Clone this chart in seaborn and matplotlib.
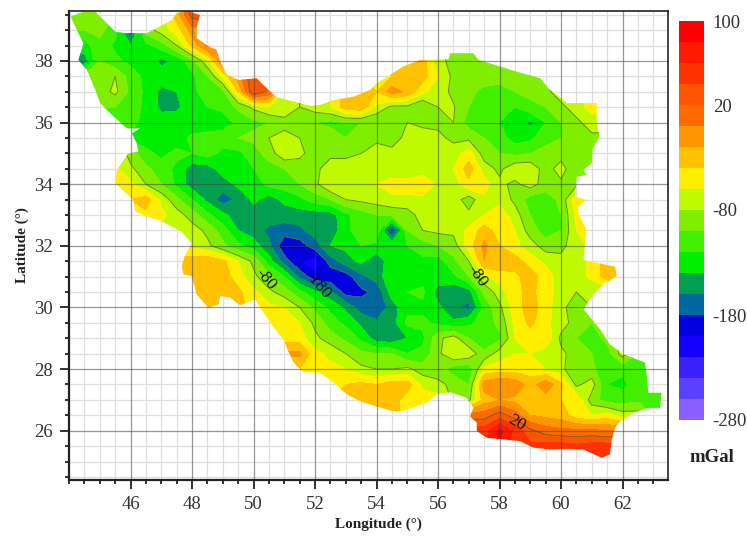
import numpy as np
import matplotlib
matplotlib.use("Agg")
import matplotlib.pyplot as plt
from matplotlib.colors import ListedColormap
from matplotlib.patches import Polygon
from matplotlib.ticker import MultipleLocator
import seaborn as sns

sns.set_theme(style="white")
plt.rcParams['font.family'] = ['Liberation Serif', 'DejaVu Serif']

# Country outline
outline_lon = [44.05,44.47,44.85,45.12,45.50,45.82,46.53,46.85,47.34,47.50,47.83,48.26,48.15,48.15,48.53,48.80,48.91,49.13,49.51,50.10,
 50.43,50.75,51.30,51.84,52.16,52.60,53.25,53.79,54.01,54.87,55.41,56.34,56.39,57.15,57.31,58.02,58.56,59.32,59.59,59.86,
 60.19,60.83,61.16,61.16,61.25,61.03,61.00,60.73,60.83,60.51,60.45,60.83,60.56,60.56,60.83,60.73,61.76,61.81,61.38,61.05,
 60.73,61.27,61.59,62.03,62.73,62.79,62.84,63.27,63.22,62.84,62.35,61.87,61.76,61.65,61.59,61.32,60.73,60.19,59.64,59.10,
 58.67,58.12,57.58,57.26,57.26,57.04,57.15,56.93,56.39,55.96,55.63,54.87,54.49,53.79,53.46,53.03,52.60,52.16,51.62,51.30,
 51.13,50.97,50.70,50.32,50.05,49.56,49.24,48.91,48.86,48.53,48.15,47.99,47.72,47.66,47.77,47.99,47.66,46.96,46.53,46.15,
 46.09,45.50,45.55,45.93,46.25,46.20,46.04,46.31,45.88,45.39,45.01,44.85,44.58,44.30,44.47,44.20]
outline_lat = [39.44,39.60,39.60,39.33,38.95,38.90,38.90,39.06,39.33,39.55,39.63,39.49,39.11,38.74,38.47,38.36,37.98,37.55,37.38,37.44,
 37.11,36.82,36.68,36.54,36.57,36.73,36.84,37.06,37.27,37.82,38.03,38.05,38.25,38.25,38.03,37.82,37.65,37.44,37.11,36.90,
 36.63,36.63,36.63,35.98,35.54,35.16,34.68,34.46,34.30,34.24,33.60,33.49,33.27,33.05,32.51,31.54,31.32,31.02,30.75,30.42,
 29.94,29.29,28.80,28.48,28.21,27.77,27.23,27.23,26.74,26.74,26.58,26.26,26.10,25.72,25.23,25.12,25.39,25.41,25.39,25.45,
 25.66,25.72,25.77,25.99,26.26,26.47,26.74,27.07,27.25,27.18,26.91,26.64,26.64,26.85,26.96,27.18,27.56,27.88,27.90,28.21,
 28.58,28.96,29.29,29.83,30.26,30.07,30.32,30.37,30.10,29.99,30.42,31.02,31.07,31.34,31.70,32.08,32.46,32.82,32.95,33.11,
 33.49,34.03,34.46,35.00,35.06,35.33,35.65,35.81,35.81,36.25,36.63,37.06,37.71,38.03,38.57,39.11]

# Gravity anomaly (mGal) read at half-degree nodes: {first longitude of a run: values}
lons = [44 + 0.5 * i for i in range(40)]
r400 = {47.5: [-30, 40, 40]}
r395 = {44: [-90,-95,-95,-100,-100,-85,-65,-30,30,30]}
r390 = {44.5: [-100,-95,-110,-175,-90,-70,-50,-10,0]}
r385 = {44.5: [-130,-105,-125,-140,-125,-110,-80,-35,5]}
r380 = {44.5: [-150,-100,-115,-125,-130,-145,-135,-105,-65,0,20], 56: [-75,-85]}
r375 = {45: [-95,-80,-110,-125,-130,-135,-125,-100,-55,-10], 54.5: [-40,-25,-30,-60,-85,-90,-90,-95,-85,-85]}
r370 = {45: [-90,-75,-105,-125,-145,-140,-125,-110,-105,-40,40,15], 54: [-40,-10,-25,-55,-70,-85,-95,-105,-105,-100,-95,-85,-70]}
r365 = {45.5: [-100,-110,-125,-145,-145,-125,-120,-115,-95,-75,-60,-70,-80,-70,-60,-30,-25], 54: [-65,-85,-85,-100,-80,-78,-100,-110,-110,-120,-105,-100,-85,-70,-50]}
r360 = {46: [-110,-130,-130,-125,-135,-135,-130,-115,-105,-100,-85,-90,-100,-105,-100,-100], 54: [-100,-100,-80,-85,-85,-80,-110,-115,-120,-125,-145,-120,-100,-85,-70]}
r355 = {46: [-125,-130,-125,-130,-115,-110,-110,-100,-95,-80,-75,-80,-90,-90,-100,-90], 54: [-85,-95,-70,-70,-75,-85,-85,-100,-110,-130,-125,-105,-100,-95,-85]}
r350 = {46: [-90,-115,-125,-115,-120,-110,-125,-125,-110,-90,-65,-75,-90,-85,-85,-80], 54: [-70,-70,-70,-75,-75,-70,-50,-90,-100,-105,-100,-95,-90,-95,-95]}
r345 = {45.5: [-55,-75,-95,-110,-125,-150,-150,-130,-130,-120,-110,-100,-90,-85,-70,-70,-70], 54: [-70,-75,-80,-70,-70,-60,-30,-70,-85,-65,-65,-90,-70,-100]}
r340 = {45.5: [-55,-55,-80,-100,-125,-150,-155,-150,-135,-130,-115,-110,-100,-85,-60,-70,-70], 54: [-60,-50,-50,-45,-65,-70,-45,-50,-75,-85,-70,-90,-85,-85]}
r335 = {46: [-40,-30,-65,-95,-120,-145,-170,-155,-135,-150,-135,-125,-110,-100,-80,-75], 54: [-70,-65,-65,-65,-70,-70,-90,-65,-65,-85,-110,-110,-95,-45]}
r330 = {46.5: [-45,-55,-70,-90,-115,-135,-150,-150,-150,-150,-150,-150,-150,-125,-110], 54: [-100,-95,-90,-70,-80,-75,-75,-60,-50,-70,-100,-120,-100,-55]}
r325 = {47.5: [-65,-70,-85,-110,-140,-150,-165,-170,-165,-150,-155,-125,-110], 54: [-105,-190,-100,-80,-75,-75,-55,-30,-50,-60,-90,-110,-100,-60,-50]}
r320 = {48: [-65,-75,-95,-115,-130,-155,-195,-190,-170,-140,-135,-120], 54: [-125,-120,-120,-110,-100,-90,-50,-15,-40,-55,-70,-90,-85,-70,-55]}
r315 = {48: [-30,-25,-35,-60,-85,-130,-170,-200,-210,-170,-150,-135], 54: [-155,-125,-135,-125,-130,-105,-80,-20,-25,-30,-50,-65,-75,-70,-55,-30]}
r310 = {48: [-25,-25,-30,-50,-75,-95,-120,-165,-195,-195,-190,-165], 54: [-150,-125,-120,-130,-125,-125,-100,-65,-50,-45,-30,-50,-70,-70,-55,-30]}
r305 = {48: [-30,-30,-30,-35,-55,-75,-90,-115,-135,-155,-190,-185], 54: [-175,-130,-120,-115,-150,-155,-150,-95,-70,-45,-35,-50,-70,-80,-75]}
r300 = {48.5: [-30,-30,-30,-50,-55,-60,-80,-105,-125,-145,-170], 54: [-178,-150,-125,-125,-135,-158,-165,-115,-85,-50,-30,-50,-75,-90,-80]}
r295 = {50.5: [-50,-50,-60,-85,-110,-125,-145], 54: [-155,-150,-115,-115,-125,-135,-125,-110,-95,-55,-35,-55,-70,-90,-100,-80]}
r290 = {51: [-50,-50,-75,-90,-105,-125], 54: [-150,-155,-140,-125,-85,-70,-100,-115,-105,-60,-50,-45,-85,-100,-110,-95]}
r285 = {51.5: [-15,-55,-65,-80,-95], 54: [-100,-100,-120,-115,-85,-60,-65,-95,-70,-60,-60,-70,-75,-90,-100,-110,-70]}
r280 = {51.5: [-40,-50,-55,-60,-75], 54: [-80,-80,-75,-90,-90,-110,-115,-55,-50,-50,-50,-60,-75,-95,-95,-115,-115,-100]}
r275 = {53: [-40,-35], 54: [-40,-30,-30,-65,-75,-85,-100,-10,0,-5,-30,-5,-35,-85,-70,-120,-125,-110,-105]}
r270 = {53.5: [-30], 54: [-30,-30,-50,-50], 57: [-85,-30,-20,-25,-35,-30,-40,-45,-90,-110,-110,-105,-100]}
r265 = {57.5: [10,30,10,-20,-25,-30,-50,-60,-50,-70]}
r260 = {57.5: [50,85,55,25,10,5,5,5,0]}
r255 = {59: [45,50,50,45,50,50]}
r250 = {59: [50,50,50,50,50,50]}
rows = [r250, r255, r260, r265, r270, r275, r280, r285, r290, r295, r300, r305, r310, r315, r320, r325,
        r330, r335, r340, r345, r350, r355, r360, r365, r370, r375, r380, r385, r390, r395, r400]
row_lats = [25 + 0.5 * i for i in range(len(rows))]

band_colors = ['#8a60ff', '#5c40ff', '#3a20ff', '#1400ff', '#0000e0', '#006aa0', '#00a050', '#00ee00',
               '#40f000', '#80ee00', '#c0fa00', '#ffee00', '#ffc000', '#ff9500', '#ff6a00', '#ff5500',
               '#ff3300', '#ff1a00', '#ff0000']
levels = list(range(-280, 101, 20))
cbar_ticks = [100, 20, -80, -180, -280]
x_ticks = list(range(46, 63, 2))
y_ticks = list(range(26, 39, 2))

Z = np.full((len(row_lats), len(lons)), np.nan)
for i, row in enumerate(rows):
    for start, vals in row.items():
        j0 = lons.index(start)
        Z[i, j0:j0 + len(vals)] = vals
# Nodes outside the border are clipped away; they only carry the nearest node so the bands reach the edge
LON, LAT = np.meshgrid(lons, row_lats)
known = ~np.isnan(Z)
for i, j in zip(*np.where(~known)):
    d = (LON[known] - LON[i, j])**2 + (LAT[known] - LAT[i, j])**2
    Z[i, j] = Z[known][np.argmin(d)]

W, H = 747, 536
fig = plt.figure(figsize=(W / 100, H / 100), dpi=100)
ax = fig.add_axes([68.5 / W, (H - 480) / H, 599.2 / W, 469 / H])
ax.set_facecolor('white')

clip = Polygon(np.column_stack([outline_lon, outline_lat]), closed=True, transform=ax.transData,
               fc='none', ec='none')
ax.add_patch(clip)
cf = ax.contourf(lons, row_lats, Z, levels=levels, colors=band_colors, zorder=1)
cf.set_clip_path(clip)
cl = ax.contour(lons, row_lats, Z, levels=[-180, -80, 20], colors='#4f6a35', linewidths=0.7,
                linestyles='solid', alpha=0.8, zorder=1.5)
cl.set_clip_path(clip)

ax.set_xlim(43.98, 63.47)
ax.set_ylim(24.4, 39.62)
ax.set_xticks(x_ticks)
ax.set_yticks(y_ticks)
ax.xaxis.set_minor_locator(MultipleLocator(0.5))
ax.yaxis.set_minor_locator(MultipleLocator(0.5))
ax.set_axisbelow(True)
ax.grid(True, which='minor', color='#dedede', lw=0.9)
ax.grid(False, which='major')
for t in x_ticks:
    ax.axvline(t, color='#444444', alpha=0.55, lw=0.9, zorder=2)
for t in y_ticks:
    ax.axhline(t, color='#444444', alpha=0.55, lw=0.9, zorder=2)
ax.tick_params(which='major', direction='out', length=6.5, width=1.3, color='#222222', bottom=True, left=True,
               labelsize=13.5, labelcolor='#333333', pad=5)
ax.tick_params(which='minor', direction='out', length=3, width=1.3, color='#222222', bottom=True, left=True)
for s in ('left', 'bottom'):
    ax.spines[s].set_linewidth(1.6)
    ax.spines[s].set_color('#222222')
for s in ('top', 'right'):
    ax.spines[s].set_linewidth(1.2)
    ax.spines[s].set_color('#222222')

ax.set_xlabel('Longitude (°)', fontsize=11, fontweight='bold', color='#222222', va='center')
ax.xaxis.set_label_coords(0.5165, -0.094)
ax.set_ylabel('Latitude (°)', fontsize=11, fontweight='bold', color='#222222', va='center')
ax.yaxis.set_label_coords(-0.078, 0.50)

for txt, lo, la, rot in [('-80', 50.4, 30.9, -50), ('-180', 52.1, 30.75, -50),
                         ('-80', 57.27, 31.0, -55), ('20', 58.57, 26.25, -30)]:
    ax.text(lo, la, txt, fontsize=12.5, rotation=rot, ha='center', va='center', color='#111111', zorder=4)

# Colour scale
cax = fig.add_axes([679.3 / W, (H - 420) / H, 25 / W, 399 / H])
band_mid = np.array([[(levels[k] + levels[k + 1]) / 2] for k in range(len(band_colors))])[::-1]
sns.heatmap(band_mid, cmap=ListedColormap(band_colors), vmin=-280, vmax=100, cbar=False, ax=cax,
            xticklabels=False, linewidths=0)
cax.yaxis.tick_right()
cax.set_yticks([(100 - t) / 20 for t in cbar_ticks])
cax.set_yticklabels([str(t) for t in cbar_ticks], rotation=0, fontsize=13.5, color='#333333')
cax.tick_params(axis='y', length=0, pad=6)
fig.text(712 / W, (H - 458) / H, 'mGal', fontsize=13.5, fontweight='bold', ha='center', va='center', color='#222222')

fig.savefig('out.png', dpi=100)
